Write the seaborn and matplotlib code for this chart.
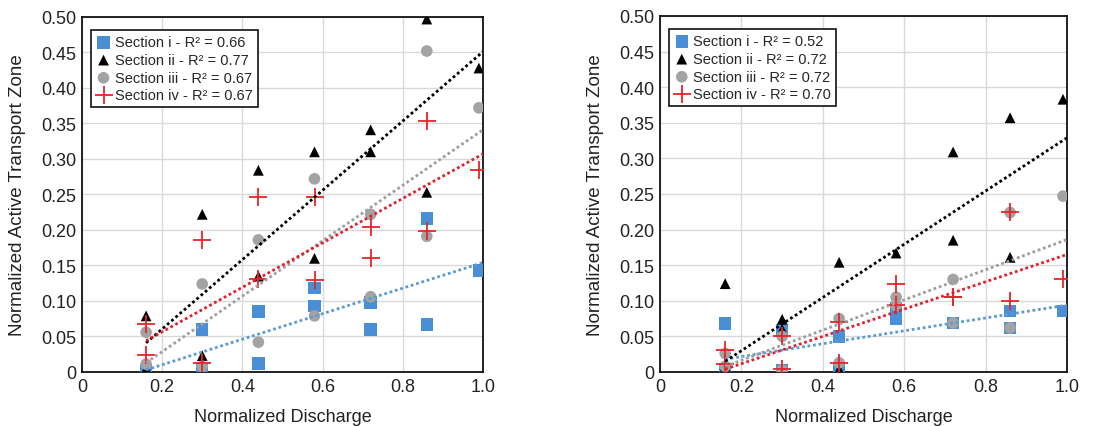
import numpy as np
import pandas as pd
import matplotlib
matplotlib.use("Agg")
import matplotlib.pyplot as plt
import seaborn as sns

# ---------------- data ----------------
x_vals = [0.16, 0.16, 0.30, 0.30, 0.44, 0.44, 0.58, 0.58, 0.72, 0.72, 0.86, 0.86, 0.99]

sections = ["Section i", "Section ii", "Section iii", "Section iv"]

# left panel
left_i   = [0.003, 0.002, 0.060, 0.004, 0.085, 0.012, 0.118, 0.093, 0.098, 0.060, 0.216, 0.067, 0.143]
left_ii  = [0.079, 0.005, 0.222, 0.023, 0.284, 0.135, 0.310, 0.160, 0.341, 0.310, 0.497, 0.253, 0.428]
left_iii = [0.056, 0.011, 0.124, 0.008, 0.186, 0.042, 0.272, 0.079, 0.222, 0.106, 0.452, 0.191, 0.372]
left_iv  = [0.067, 0.024, 0.186, 0.012, 0.247, 0.131, 0.247, 0.129, 0.204, 0.160, 0.353, 0.198, 0.285]
left_r2  = ["0.66", "0.77", "0.67", "0.67"]

# right panel
right_i   = [0.068, 0.004, 0.058, 0.003, 0.050, 0.003, 0.075, 0.089, 0.069, 0.069, 0.086, 0.062, 0.086]
right_ii  = [0.124, 0.008, 0.074, 0.060, 0.154, 0.004, 0.167, 0.100, 0.309, 0.185, 0.357, 0.161, 0.383]
right_iii = [0.026, 0.008, 0.050, 0.003, 0.075, 0.013, 0.105, 0.093, 0.130, 0.069, 0.224, 0.062, 0.247]
right_iv  = [0.031, 0.011, 0.051, 0.004, 0.070, 0.013, 0.123, 0.094, 0.105, 0.105, 0.224, 0.100, 0.130]
right_r2  = ["0.52", "0.72", "0.72", "0.70"]

# linear trend lines, values read at the ends of each dotted line
trend_x = [0.16, 1.0]
left_trend = {
    "Section i":   [0.003, 0.154],
    "Section ii":  [0.041, 0.451],
    "Section iii": [0.013, 0.341],
    "Section iv":  [0.044, 0.307],
}
right_trend = {
    "Section i":   [0.018, 0.094],
    "Section ii":  [0.015, 0.329],
    "Section iii": [0.008, 0.186],
    "Section iv":  [0.004, 0.165],
}

x_ticks = [0, 0.2, 0.4, 0.6, 0.8, 1.0]
x_ticklabels = ["0", "0.2", "0.4", "0.6", "0.8", "1.0"]
y_ticks = [0, 0.05, 0.10, 0.15, 0.20, 0.25, 0.30, 0.35, 0.40, 0.45, 0.50]
y_ticklabels = ["0", "0.05", "0.10", "0.15", "0.20", "0.25", "0.30", "0.35", "0.40", "0.45", "0.50"]

# ---------------- style ----------------
sns.set_theme(style="whitegrid")
plt.rcParams["font.family"] = ["Liberation Sans", "DejaVu Sans"]

colors = {"Section i": "#4a8fd6", "Section ii": "#000000",
          "Section iii": "#a3a3a3", "Section iv": "#e8232a"}
trend_colors = {"Section i": "#5b9bd5", "Section ii": "#000000",
                "Section iii": "#9e9e9e", "Section iv": "#e0202a"}
markers = {"Section i": "s", "Section ii": "^", "Section iii": "o", "Section iv": "+"}
sizes = {"Section i": 80, "Section ii": 60, "Section iii": 70, "Section iv": 160}

fig = plt.figure(figsize=(11.15, 4.27), dpi=100)
ax_l = fig.add_axes([0.0735, 0.1265, 0.3596, 0.8315])
ax_r = fig.add_axes([0.592, 0.1265, 0.365, 0.8338])


def draw(ax, ys, r2, trend):
    for sec, y, r in zip(sections, ys, r2):
        df = pd.DataFrame({"x": x_vals, "y": y})
        kw = dict(marker=markers[sec], s=sizes[sec], color=colors[sec], zorder=3)
        if markers[sec] == "+":
            kw.update(linewidth=1.3)
        else:
            kw.update(edgecolor="none")
        sns.scatterplot(data=df, x="x", y="y", ax=ax, label=f"{sec} - R\u00b2 = {r}", **kw)
    for sec in sections:
        tdf = pd.DataFrame({"x": trend_x, "y": trend[sec]})
        sns.lineplot(data=tdf, x="x", y="y", ax=ax, color=trend_colors[sec],
                     linestyle=(0, (1, 1)), linewidth=2.0, zorder=4, legend=False)
    ax.set_xlim(0, 1.0)
    ax.set_ylim(0, 0.5)
    ax.set_xticks(x_ticks)
    ax.set_xticklabels(x_ticklabels)
    ax.set_yticks(y_ticks)
    ax.set_yticklabels(y_ticklabels)
    ax.tick_params(axis="both", labelsize=13, length=0, pad=4, colors="#222222")
    ax.set_xlabel("Normalized Discharge", fontsize=13, color="#222222", labelpad=10)
    ax.set_ylabel("Normalized Active Transport Zone", fontsize=13.5, color="#222222", labelpad=11)
    ax.grid(True, color="#d9d9d9", linewidth=1.0)
    for sp in ax.spines.values():
        sp.set_color("#111111")
        sp.set_linewidth(1.3)
    leg = ax.legend(loc="upper left", bbox_to_anchor=(0.012, 0.975), fontsize=10.5,
                    frameon=True, fancybox=False, framealpha=1, edgecolor="#111111",
                    handletextpad=0.3, borderpad=0.35, labelspacing=0.25,
                    handlelength=1.0, borderaxespad=0.3)
    leg.get_frame().set_linewidth(1.2)


draw(ax_l, [left_i, left_ii, left_iii, left_iv], left_r2, left_trend)
draw(ax_r, [right_i, right_ii, right_iii, right_iv], right_r2, right_trend)

fig.savefig("out.png", dpi=100)
